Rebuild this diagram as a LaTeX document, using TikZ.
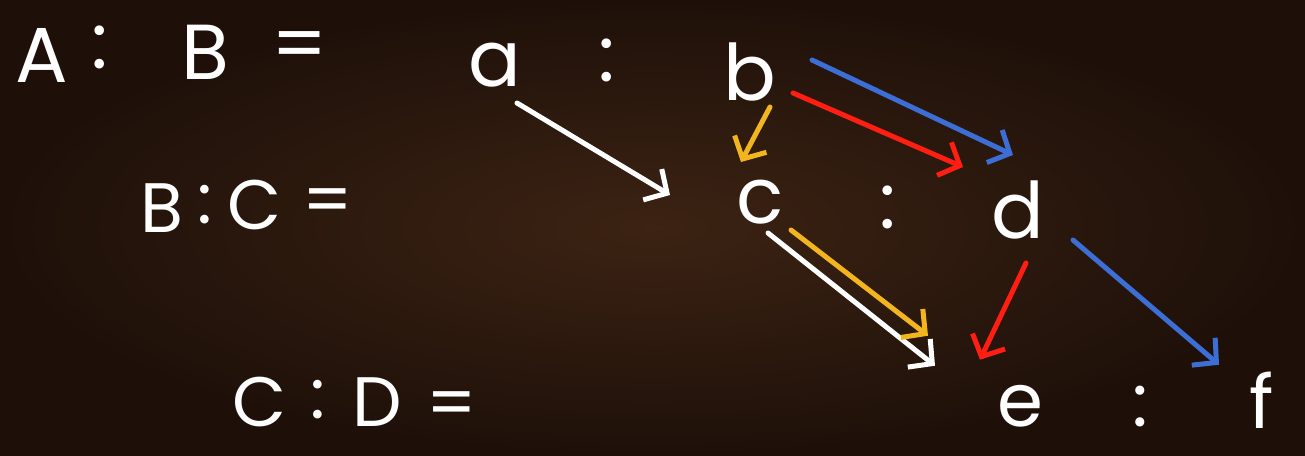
\documentclass[tikz,border=0pt]{standalone}
\usepackage{fontspec}
\setmainfont{Poppins}
\usetikzlibrary{arrows.meta,calc}
\definecolor{bgin}{HTML}{3C2313}
\definecolor{bgout}{HTML}{1E1009}
\definecolor{chalkY}{HTML}{F2B51E}
\definecolor{chalkR}{HTML}{FF1E12}
\definecolor{chalkB}{HTML}{3C6ED6}
\tikzset{
  chalk/.style={text=white,inner sep=0pt,font=\fontsize{78}{80}\selectfont},
  small/.style={chalk,font=\fontsize{70}{72}\selectfont},
  low/.style={chalk,anchor=base,font=\fontsize{74}{76}\selectfont},
  arr/.style={line width=5pt,line cap=round,line join=round,
     -{Straight Barb[length=17pt,width=36pt,line width=5pt]}},
  wA/.style={arr,draw=white},
  yA/.style={arr,draw=chalkY},
  rA/.style={arr,draw=chalkR},
  bA/.style={arr,draw=chalkB}
}
\begin{document}
\begin{tikzpicture}[x=1pt,y=-1pt]
\useasboundingbox (0,0) rectangle (1305,455);
\shade[inner color=bgin,outer color=bgout] (0,0) rectangle (1305,455);
% left column
\node[chalk] (A1) at (42,55) {A};
\node[chalk] (c1) at (100,47) {:};
\node[chalk] (B1) at (205,52) {B};
\node[chalk] (e1) at (300,52) {=};
\node[small] (B2) at (162,208) {B};
\node[small] (c2) at (205,205) {:};
\node[small] (C2) at (255,205) {C};
\node[small] (e2) at (328,207) {=};
\node[small] (C3) at (260,402) {C};
\node[small] (c3) at (318,400) {:};
\node[small] (D3) at (377,402) {D};
\node[small] (e3) at (452,410) {=};
% right side
\node[chalk] (a) at (495,65) {a};
\node[chalk] (ca) at (607,60) {:};
\node[chalk] (b) at (750,72) {b};
\node[chalk] (c) at (760,202) {c};
\node[chalk] (cc) at (888,207) {:};
\node[chalk] (d) at (1018,210) {d};
\node[low] (e) at (1020,426) {e};
\node[low] (ce) at (1140,426) {:};
\node[low] (f) at (1262,428) {f};
% arrows
\draw[wA] ([shift={(22,38)}]a.center) -- ([shift={(-90,-7)}]c.center);
\draw[yA] ([shift={(20,35)}]b.center) -- ([shift={(-19,-40)}]c.center);
\draw[rA] ([shift={(43,21)}]b.center) -- ([shift={(-55,-43)}]d.center);
\draw[bA] ([shift={(62,-12)}]b.center) -- ([shift={(-5,-55)}]d.center);
\draw[wA] ([shift={(8,31)}]c.center) -- ([shift={(-85,-40)}]e.center);
\draw[yA] ([shift={(31,28)}]c.center) -- ([shift={(-92,-70)}]e.center);
\draw[rA] ([shift={(8,53)}]d.center) -- ([shift={(-40,-46)}]e.center);
\draw[bA] ([shift={(55,30)}]d.center) -- ([shift={(-43,-35)}]f.center);
\end{tikzpicture}
\end{document}
